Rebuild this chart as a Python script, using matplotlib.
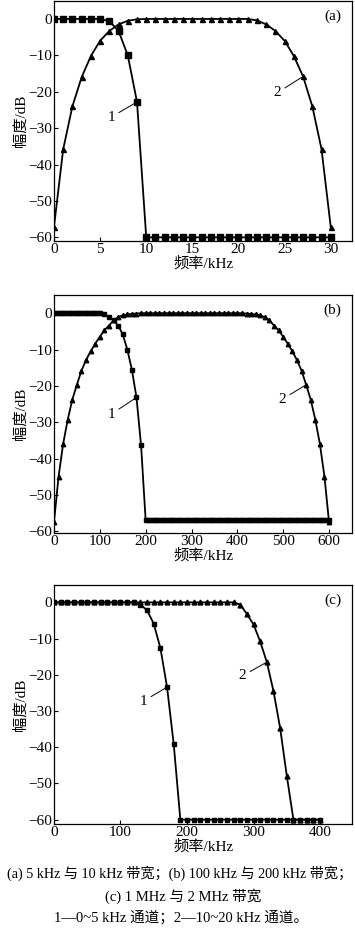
import numpy as np
import matplotlib
matplotlib.use("Agg")
import matplotlib.pyplot as plt

plt.rcParams['font.family'] = ['Liberation Serif', 'Noto Sans CJK SC']
plt.rcParams['axes.unicode_minus'] = True

# ---------------- data ----------------
# (a) 5 kHz and 10 kHz bandwidth, step 1 kHz
a_freq = list(range(0, 31))
a_ch1 = [0, 0, 0, 0, 0, 0, -0.6, -3.3, -10, -22.8] + [-60] * 21
a_ch2 = [-57.2, -35.8, -24, -16, -10.2, -6, -3.3, -1.5, -0.5, -0.1] + [0] * 12 + \
        [-0.4, -1.5, -3.3, -6, -10.2, -15.8, -24, -35.8, -57.2]

# (b) 100 kHz and 200 kHz bandwidth
b_freq1 = list(range(0, 101, 5)) + list(range(110, 201, 10)) + list(range(205, 601, 5))
b_ch1 = [0] * 21 + [-0.3, -1, -2, -3.4, -5.8, -10, -15.6, -23.2, -36.4, -57] + [-57] * 80
b_freq2 = list(range(0, 601, 10))
b_ch2_left = [-57.6, -45, -36, -29.3, -23.8, -19.7, -15.8, -12.9, -10.5, -8.4,
              -6.5, -4.7, -3.4, -2, -1.1, -0.6, -0.35, -0.2, -0.1]
b_ch2 = b_ch2_left + [0] * 23 + b_ch2_left[::-1]

# (c) 1 MHz and 2 MHz bandwidth, step 10 kHz
c_freq = list(range(0, 401, 10))
c_ch1 = [0] * 13 + [-0.6, -2.2, -5.9, -12.6, -23.4, -39.1, -60] + [-60] * 21
c_ch2 = [0] * 28 + [-0.6, -3.2, -6.1, -10.8, -16.5, -24.5, -34.7, -47.9, -60] + [-60] * 4

yticks = [0, -10, -20, -30, -40, -50, -60]
a_xticks = [0, 5, 10, 15, 20, 25, 30]
b_xticks = [0, 100, 200, 300, 400, 500, 600]
c_xticks = [0, 100, 200, 300, 400]

xlabel = '频率/kHz'
ylabel = '幅度/dB'
captions = ['(a) 5 kHz 与 10 kHz 带宽；(b) 100 kHz 与 200 kHz 带宽；',
            '(c) 1 MHz 与 2 MHz 带宽',
            '1—0~5 kHz 通道；2—10~20 kHz 通道。']

# ---------------- figure ----------------
fig = plt.figure(figsize=(3.55, 9.33), dpi=100)
L, W = 0.152, 0.8395
axa = fig.add_axes([L, 0.7417, W, 0.2575])
axb = fig.add_axes([L, 0.4287, W, 0.2551])
axc = fig.add_axes([L, 0.1168, W, 0.2562])

fs = 11
lw = 1.3


def style(ax, xlim, ylim, xticks, tag):
    ax.set_xlim(*xlim)
    ax.set_ylim(*ylim)
    ax.set_xticks(xticks)
    ax.set_yticks(yticks)
    ax.tick_params(direction='in', length=3, width=0.8, labelsize=fs, pad=1.5,
                   top=False, right=False)
    for s in ax.spines.values():
        s.set_linewidth(0.9)
    ax.set_xlabel(xlabel, fontsize=fs, labelpad=0)
    ax.set_ylabel(ylabel, fontsize=fs, labelpad=0)
    ax.text(0.965, 0.965, tag, transform=ax.transAxes, ha='right', va='top', fontsize=fs)


def annotate(ax, label, pt, txt):
    ax.annotate(label, xy=pt, xytext=txt, fontsize=fs, ha='right', va='center',
                arrowprops=dict(arrowstyle='-', lw=0.7, color='black', shrinkA=1, shrinkB=1))


# (a)
axa.plot(a_freq, a_ch1, 'k-', lw=lw, marker='s', ms=3.8)
axa.plot(a_freq, a_ch2, 'k-', lw=lw, marker='^', ms=3.6)
style(axa, (0, 32.3), (-61, 5), a_xticks, '(a)')
annotate(axa, '1', (9, -22.8), (6.6, -27))
annotate(axa, '2', (27, -15.8), (24.6, -20.3))

# (b)
axb.plot(b_freq1, b_ch1, 'k-', lw=lw, marker='s', ms=3.5)
axb.plot(b_freq2, b_ch2, 'k-', lw=lw, marker='^', ms=3.2)
style(axb, (0, 650), (-60.5, 5), b_xticks, '(b)')
annotate(axb, '1', (180, -23.2), (133, -27.8))
annotate(axb, '2', (550, -19.7), (506, -23.7))

# (c)
axc.plot(c_freq, c_ch1, 'k-', lw=lw, marker='s', ms=3.5)
axc.plot(c_freq, c_ch2, 'k-', lw=lw, marker='^', ms=3.5)
style(axc, (0, 448), (-61.2, 4.8), c_xticks, '(c)')
annotate(axc, '1', (170, -23.4), (140, -27.3))
annotate(axc, '2', (320, -16.5), (289, -20.3))

fig.text(0.505, 1 - 873 / 933, captions[0], ha='center', va='center', fontsize=10.2)
fig.text(0.515, 1 - 896 / 933, captions[1], ha='center', va='center', fontsize=10.5)
fig.text(0.51, 1 - 918 / 933, captions[2], ha='center', va='center', fontsize=10.5)

fig.savefig('out.png', dpi=100)
